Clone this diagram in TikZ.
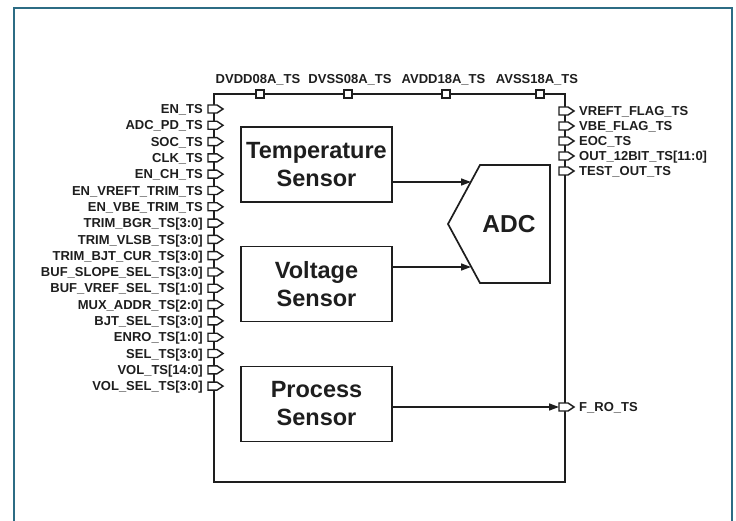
\documentclass[tikz,border=0pt]{standalone}
\usepackage{fontspec}
\setmainfont{Liberation Sans}
\usetikzlibrary{arrows.meta}
\definecolor{ink}{HTML}{1E1E1E}
\definecolor{framecol}{HTML}{2C6C84}
\tikzset{
  pinshape/.pic={\draw[ink,fill=white,line width=1.4pt,line join=miter] (-6,-4) -- (3,-4) -- (9,0) -- (3,4) -- (-6,4) -- cycle;},
  padshape/.pic={\draw[ink,fill=white,line width=1.4pt] (-4,-4) rectangle (4,4);},
  sig/.style={inner sep=0pt,text=ink,font=\fontsize{13}{15}\selectfont\bfseries},
  sensor/.style={draw=ink,line width=1.7pt,minimum width=151pt,minimum height=75pt,inner sep=0pt,align=center,text=ink,font=\fontsize{23.5}{28}\selectfont\bfseries},
  conn/.style={ink,line width=1.5pt,-{Triangle[length=10pt,width=7pt]}}
}
\begin{document}
\begin{tikzpicture}[x=1pt,y=-1pt]
\useasboundingbox (0,0) rectangle (736,521);
\fill[white] (0,0) rectangle (736,521);
\draw[framecol,line width=2.5pt] (14,521) -- (14,8) -- (732,8) -- (732,521);
% main block
\draw[ink,line width=1.9pt] (214,94) rectangle (565,482);
% top pads
\foreach \x/\lx/\t [count=\i] in {260/258/{DVDD08A\_TS},348/350/{DVSS08A\_TS},446/443.5/{AVDD18A\_TS},540/537/{AVSS18A\_TS}}{
  \pic at (\x,94) {padshape};
  \node[sig,anchor=base] (T\i) at (\lx,84) {\t};
}
% left pins
\foreach \t [count=\i from 0] in {{EN\_TS},{ADC\_PD\_TS},{SOC\_TS},{CLK\_TS},{EN\_CH\_TS},{EN\_VREFT\_TRIM\_TS},{EN\_VBE\_TRIM\_TS},{TRIM\_BGR\_TS[3:0]},{TRIM\_VLSB\_TS[3:0]},{TRIM\_BJT\_CUR\_TS[3:0]},{BUF\_SLOPE\_SEL\_TS[3:0]},{BUF\_VREF\_SEL\_TS[1:0]},{MUX\_ADDR\_TS[2:0]},{BJT\_SEL\_TS[3:0]},{ENRO\_TS[1:0]},{SEL\_TS[3:0]},{VOL\_TS[14:0]},{VOL\_SEL\_TS[3:0]}}{
  \pgfmathsetmacro{\yy}{109+\i*16.3}
  \pic at (214,\yy) {pinshape};
  \node[sig,anchor=base east] (L\i) at (203,\yy+4.7) {\t};
}
% right pins
\foreach \t [count=\i from 0] in {{VREFT\_FLAG\_TS},{VBE\_FLAG\_TS},{EOC\_TS},{OUT\_12BIT\_TS[11:0]},{TEST\_OUT\_TS}}{
  \pgfmathsetmacro{\yy}{111+\i*15}
  \pic at (565,\yy) {pinshape};
  \node[sig,anchor=base west] (R\i) at (579,\yy+4.7) {\t};
}
\pic at (565,407) {pinshape};
\coordinate (froin) at (559,407);
\node[sig,anchor=base west] (fro) at (579,411.7) {F\_RO\_TS};
% sensors
\node[sensor] (temp) at (316.5,164.5) {Temperature\\Sensor};
\node[sensor] (volt) at (316.5,284) {Voltage\\Sensor};
\node[sensor] (proc) at (316.5,404) {Process\\Sensor};
% ADC
\coordinate (adcA) at (480,165);
\coordinate (adcB) at (550,165);
\coordinate (adcC) at (550,283);
\coordinate (adcD) at (480,283);
\coordinate (adcL) at (448,224);
\draw[ink,line width=1.7pt,line join=miter] (adcA) -- (adcB) -- (adcC) -- (adcD) -- (adcL) -- cycle;
\node[text=ink,font=\fontsize{24.5}{28}\selectfont\bfseries] (adc) at (509,224) {ADC};
\coordinate (adcin1) at (471,182);
\coordinate (adcin2) at (471,267);
% connectors
\draw[conn] (temp.east |- adcin1) -- (adcin1);
\draw[conn] (volt.east |- adcin2) -- (adcin2);
\draw[conn] (proc.east |- froin) -- (froin);
\end{tikzpicture}
\end{document}
